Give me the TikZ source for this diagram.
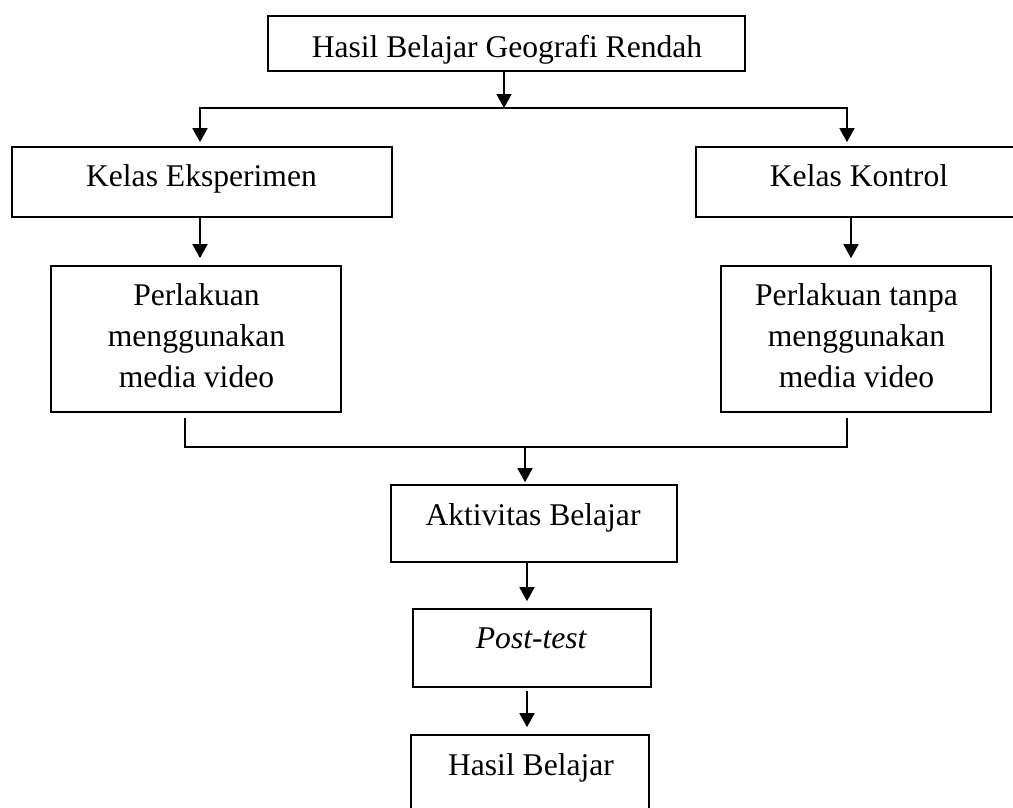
\documentclass[tikz,border=0pt]{standalone}
\usepackage{fontspec}
\setmainfont{Liberation Serif}
\usetikzlibrary{arrows.meta}
\begin{document}
\begin{tikzpicture}[x=1pt,y=-1pt,
  box/.style={draw, line width=1.7pt, rectangle, inner sep=0pt},
  txt/.style={inner sep=0pt, font=\fontsize{31.6}{41}\selectfont},
  ln/.style={line width=1.7pt},
  tip/.tip={Triangle[width=15pt,length=14pt]},
  arr/.style={line width=1.7pt, -tip},
  darr/.style={line width=1.7pt, tip-tip}]
\path[use as bounding box] (0,0) rectangle (1013,807);
\clip (0,0) rectangle (1013,807);

% boxes
\node[box, minimum width=477pt, minimum height=55pt]  (t)  at (506.5,43.5) {};
\node[box, minimum width=380pt, minimum height=70pt]  (ke) at (202,182) {};
\node[box, minimum width=326pt, minimum height=70pt]  (kk) at (859,182) {};
\node[box, minimum width=290pt, minimum height=146pt] (pe) at (196,339) {};
\node[box, minimum width=270pt, minimum height=146pt] (pt) at (856,339) {};
\node[box, minimum width=286pt, minimum height=77pt]  (ak) at (534,523.5) {};
\node[box, minimum width=238pt, minimum height=78pt]  (po) at (532,648) {};
\node[box, minimum width=238pt, minimum height=78pt]  (hb) at (530,774) {};

% texts
\node[txt, anchor=base] (tt)  at (507,57) {Hasil Belajar Geografi Rendah};
\node[txt, anchor=base] (ket) at (201.5,186.7) {Kelas Eksperimen};
\node[txt, anchor=base] (kkt) at (859,186.7) {Kelas Kontrol};
\node[txt, anchor=base] (pet) at (196.5,305) {\begin{tabular}[t]{@{}c@{}}Perlakuan\\menggunakan\\media video\end{tabular}};
\node[txt, anchor=base] (ptt) at (856.5,305) {\begin{tabular}[t]{@{}c@{}}Perlakuan tanpa\\menggunakan\\media video\end{tabular}};
\node[txt, anchor=base] (akt) at (533,525) {Aktivitas Belajar};
\node[txt, anchor=base] (pot) at (531.5,648.3) {\textit{Post-test}};
\node[txt, anchor=base] (hbt) at (531,775) {Hasil Belajar};

% connector points
\coordinate (jc) at (504,108);
\coordinate (jl) at (200,108);
\coordinate (jr) at (847,108);
\coordinate (xr) at (851,0);
\coordinate (bl0) at (185,418);
\coordinate (bl) at (185,447);
\coordinate (bc) at (525,447);
\coordinate (br) at (847,447);
\coordinate (br0) at (847,418);
\coordinate (ac) at (527,0);

% connectors
\draw[arr] (t.south -| jc) -- (jc);
\draw[darr, shorten <=4pt, shorten >=4pt] (ke.north -| jl) -- (jl) -- (jr) -- (kk.north -| jr);
\draw[arr, shorten >=7pt] (ke.south -| jl) -- (pe.north -| jl);
\draw[arr, shorten >=7pt] (kk.south -| xr) -- (pt.north -| xr);
\draw[ln] (bl0) -- (bl) -- (br) -- (br0);
\draw[arr, shorten >=2pt] (bc) -- (ak.north -| bc);
\draw[arr, shorten >=7pt] (ak.south -| ac) -- (po.north -| ac);
\draw[arr, shorten <=3pt, shorten >=7pt] (po.south -| ac) -- (hb.north -| ac);
\end{tikzpicture}
\end{document}
